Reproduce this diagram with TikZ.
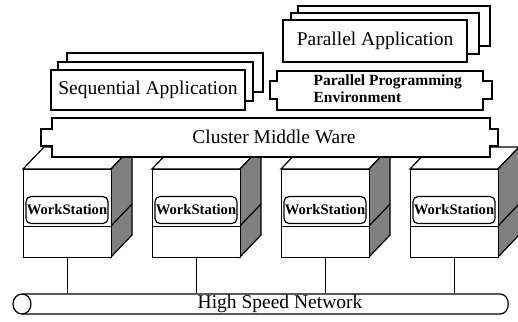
\documentclass[tikz,border=0pt]{standalone}
\usepackage{fontspec}
\setmainfont{Liberation Serif}
\begin{document}
\begin{tikzpicture}[x=1pt,y=-1pt,line width=1.2pt,line join=miter,
  panel/.style={draw,fill=white},
  darkside/.style={draw,fill=black!50},
  bigtxt/.style={font=\fontsize{19.5}{22}\selectfont},
  ppetxt/.style={font=\bfseries\fontsize{15.5}{17}\selectfont,align=left,inner sep=0pt},
  wslabel/.style={draw,fill=white,rounded corners=5pt,minimum width=82pt,minimum height=27pt,inner sep=0pt,
    font=\bfseries\fontsize{14.6}{16}\selectfont},
  facebox/.style={draw,fill=white,minimum width=88pt,inner sep=0pt,anchor=north west}]
\useasboundingbox (0,0) rectangle (518,321);

% ---- workstations: 3-D boxes with a shaded side face ----
\foreach \i/\L in {1/23,2/152,3/281,4/410}{
  \pgfmathsetmacro\R{\L+88}
  \draw[panel] (\L,169) -- ++(21,-22) -- ({\R+21},147) -- (\R,169) -- cycle;
  \draw[darkside] (\R,169) -- ({\R+21},147) -- ({\R+21},235) -- (\R,257) -- cycle;
  \draw (\R,226) -- ++(21,-22);
  \node[facebox,minimum height=57pt] (top\i) at (\L,169) {};
  \node[facebox,minimum height=31pt] (base\i) at (\L,226) {};
  \node[wslabel] (lab\i) at ({\L+44},210) {WorkStation};
}

% ---- cluster middleware layer ----
\draw[panel] (52,118) -- (490,118) -- (490,129) -- (498,129) -- (498,146) -- (490,146)
  -- (490,157) -- (52,157) -- (52,146) -- (41,146) -- (41,129) -- (52,129) -- cycle;
\node[bigtxt] (cmw) at (274,137) {Cluster Middle Ware};

% ---- sequential application stack ----
\draw[panel] (67,53) rectangle (263,92);
\draw[panel] (58,62) rectangle (253,101);
\node[panel,bigtxt,minimum width=194pt,minimum height=40pt,inner sep=0pt] (seq) at (148,90) {Sequential Application};

% ---- parallel application stack ----
\draw[panel] (298,6) rectangle (490,46);
\draw[panel] (291,13) rectangle (479,54);
\node[panel,bigtxt,minimum width=184pt,minimum height=42pt,inner sep=0pt] (par) at (375,41) {Parallel Application};

% ---- parallel programming environment ----
\draw[panel] (277,71) -- (483,71) -- (483,81) -- (492,81) -- (492,99) -- (483,99)
  -- (483,110) -- (277,110) -- (277,99) -- (270,99) -- (270,81) -- (277,81) -- cycle;
\node[ppetxt,anchor=west] (ppe) at (313,89) {Parallel Programming\\Environment};

% ---- high speed network ----
\draw[panel] (22,294) -- (500,294) .. controls (511,294) and (511,314) .. (500,314) -- (22,314);
\draw[panel] (22,304) ellipse [x radius=9, y radius=10];
\node[bigtxt,minimum height=20pt,inner sep=0pt] (net) at (280,304) {High Speed Network};

% ---- station links to the network ----
\foreach \i in {1,...,4}{
  \draw (base\i.south) -- (base\i.south |- net.north);
}
\end{tikzpicture}
\end{document}
